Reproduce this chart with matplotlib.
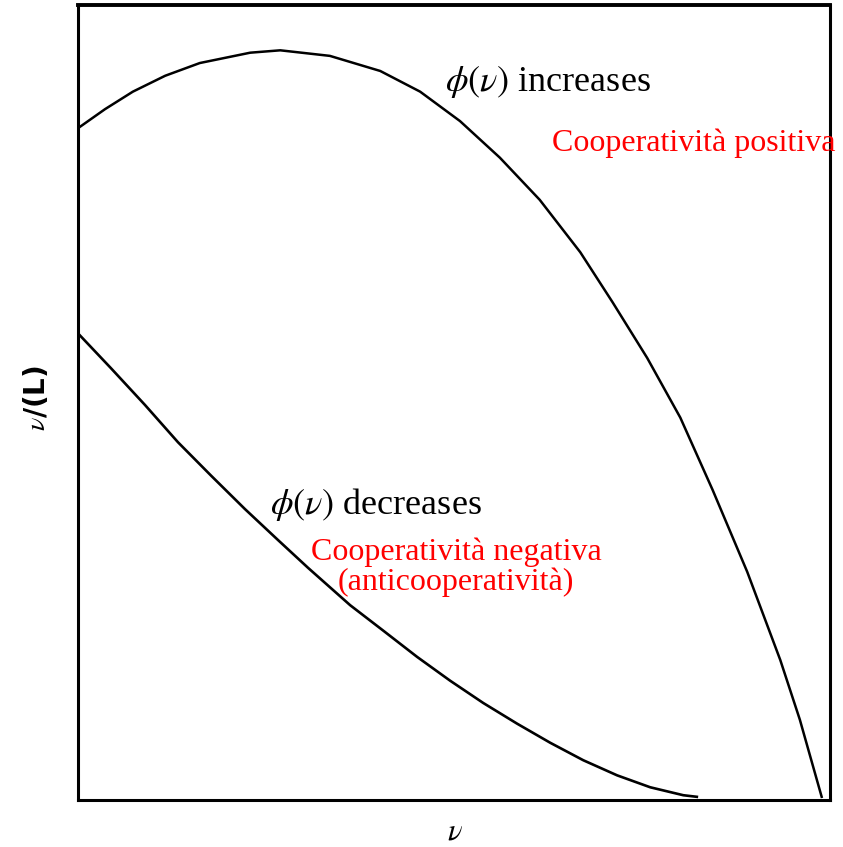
import matplotlib

matplotlib.use("Agg")
import matplotlib.pyplot as plt

plt.rcParams["mathtext.fontset"] = "stix"

# upper curve: phi(v) increases (positive cooperativity)
up_x = [0.000, 0.036, 0.073, 0.116, 0.162, 0.229, 0.269, 0.335, 0.402, 0.455,
        0.508, 0.561, 0.614, 0.668, 0.711, 0.757, 0.801, 0.844, 0.890, 0.934,
        0.960, 0.989]
up_y = [0.845, 0.869, 0.891, 0.911, 0.927, 0.940, 0.943, 0.936, 0.917, 0.891,
        0.854, 0.808, 0.755, 0.689, 0.626, 0.556, 0.481, 0.390, 0.287, 0.176,
        0.101, 0.004]

# lower curve: phi(v) decreases (negative cooperativity)
low_x = [0.000, 0.044, 0.089, 0.133, 0.177, 0.222, 0.266, 0.306, 0.362, 0.406,
         0.451, 0.495, 0.539, 0.584, 0.628, 0.672, 0.717, 0.761, 0.805, 0.823]
low_y = [0.587, 0.543, 0.497, 0.450, 0.408, 0.366, 0.327, 0.292, 0.245, 0.213,
         0.180, 0.150, 0.122, 0.096, 0.072, 0.050, 0.031, 0.016, 0.006, 0.004]

SERIF = ["Liberation Serif", "DejaVu Serif"]

fig = plt.figure(figsize=(8.43, 8.47), dpi=100)
ax = fig.add_axes([0.0925, 0.0555, 0.892, 0.9386])

ax.plot(up_x, up_y, color="black", lw=1.8, solid_joinstyle="round")
ax.plot(low_x, low_y, color="black", lw=1.9, solid_joinstyle="round")

ax.set_xlim(0, 1)
ax.set_ylim(0, 1)
ax.set_xticks([])
ax.set_yticks([])
for side in ["left", "bottom", "right"]:
    ax.spines[side].set_linewidth(2.2)
ax.spines["top"].set_linewidth(2.8)

ax.text(0.488, 0.903, r"$\phi(\nu)$ increases", fontsize=26, family=SERIF,
        ha="left", va="center")
ax.text(0.630, 0.826, "Cooperatività positiva", fontsize=23, family=SERIF,
        color="red", ha="left", va="center", clip_on=False)
ax.text(0.255, 0.372, r"$\phi(\nu)$ decreases", fontsize=26, family=SERIF,
        ha="left", va="center")
ax.text(0.503, 0.293, "Cooperatività negativa\n(anticooperatività)", fontsize=23,
        family=SERIF, color="red", ha="center", va="center", linespacing=1.0)

fig.text(36 / 843, 1 - 398 / 847, r"$\nu$/(L)", rotation=90, fontsize=20,
         fontweight="bold", ha="center", va="center")
fig.text(455 / 843, 1 - 831 / 847, r"$\nu$", fontsize=22, ha="center", va="center")

fig.savefig("out.png", dpi=100)
